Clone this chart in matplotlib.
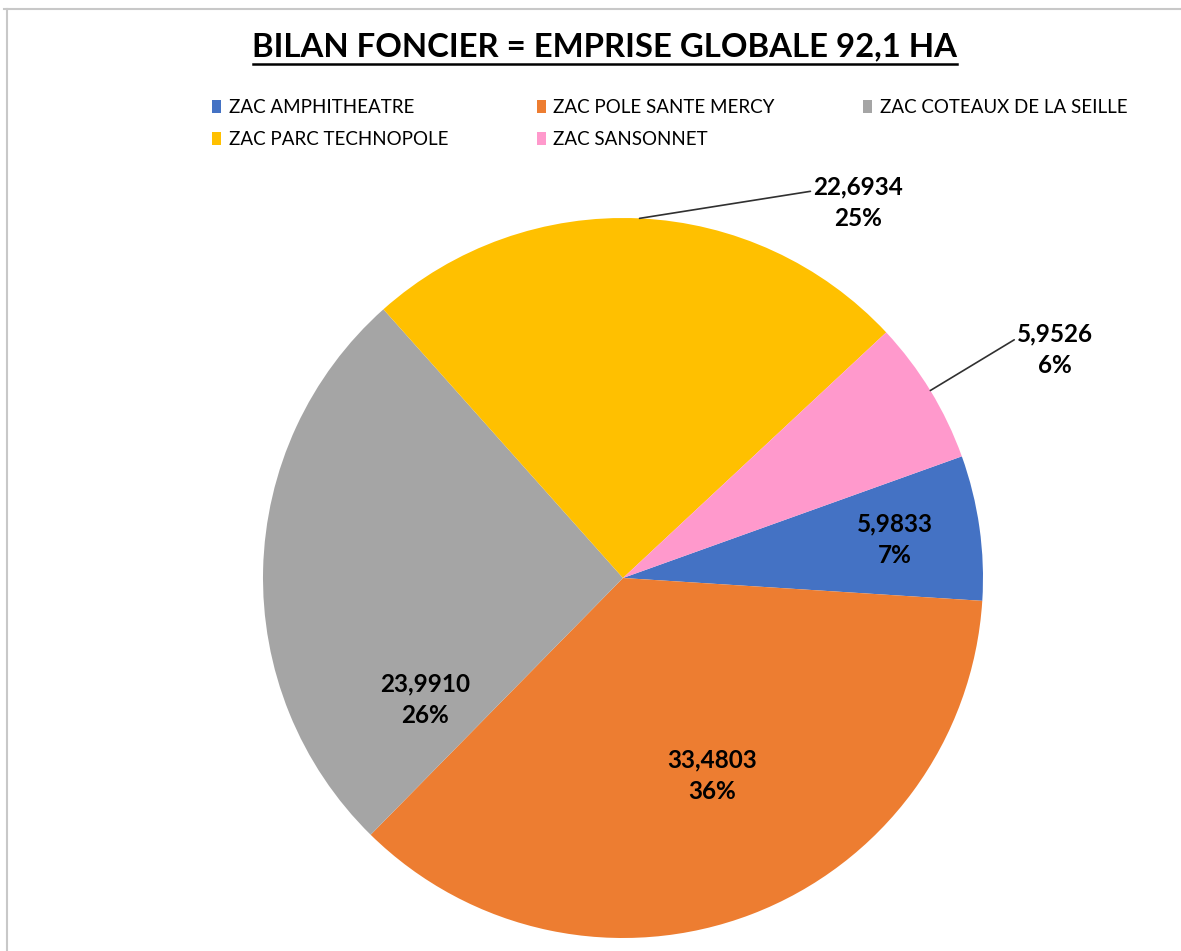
import matplotlib.pyplot as plt
from matplotlib.patches import Patch
from matplotlib.lines import Line2D
import numpy as np

plt.rcParams["font.family"] = ["Lato", "DejaVu Sans"]

# data
zones = ["ZAC AMPHITHEATRE", "ZAC POLE SANTE MERCY", "ZAC COTEAUX DE LA SEILLE",
         "ZAC PARC TECHNOPOLE", "ZAC SANSONNET"]
surfaces = [5.9833, 33.4803, 23.9910, 22.6934, 5.9526]
pct_labels = ["7%", "36%", "26%", "25%", "6%"]
colors = ["#4472C4", "#ED7D31", "#A5A5A5", "#FFC000", "#FF99CC"]

# label positions (data units, pie radius = 1) and which ones get a leader line
label_pos = [(0.756, 0.106), (0.247, -0.55), (-0.55, -0.339), (0.653, 1.042), (1.2, 0.633)]
leader = [False, False, False, True, True]

fig = plt.figure(figsize=(11.81, 9.51), dpi=100)

# chart frame (top and left border)
fig.add_artist(Line2D([0.003, 1.0], [1 - 9 / 951, 1 - 9 / 951], color="#C8C8C8", lw=1.5))
fig.add_artist(Line2D([7 / 1181, 7 / 1181], [0, 1 - 9 / 951], color="#C8C8C8", lw=1.5))

cx, cy, r = 623, 578, 360
ax = fig.add_axes([(cx - r) / 1181, (951 - cy - r) / 951, 2 * r / 1181, 2 * r / 951])
wedges, _ = ax.pie(surfaces, colors=colors, startangle=19.75, counterclock=False,
                   radius=1, wedgeprops=dict(linewidth=0))
ax.set_xlim(-1, 1)
ax.set_ylim(-1, 1)
ax.axis("off")

for w, v, p, pos, ld in zip(wedges, surfaces, pct_labels, label_pos, leader):
    txt = f"{v:.4f}".replace(".", ",") + "\n" + p
    if ld:
        mid = np.deg2rad((w.theta1 + w.theta2) / 2)
        x0, y0 = np.cos(mid), np.sin(mid)
        ax.annotate(txt, xy=(x0, y0), xytext=pos, ha="center", va="center",
                    fontsize=17.5, fontweight="bold", linespacing=1.45,
                    arrowprops=dict(arrowstyle="-", color="#303030", lw=1.2,
                                    shrinkA=0, shrinkB=0, relpos=(0, 0.72)),
                    annotation_clip=False)
    else:
        ax.text(pos[0], pos[1], txt, ha="center", va="center", fontsize=17.5,
                fontweight="bold", linespacing=1.45)

fig.text(605 / 1181, 1 - 47 / 951, "BILAN FONCIER = EMPRISE GLOBALE 92,1 HA",
         ha="center", va="center", fontsize=23.7, fontweight="bold")
fig.add_artist(Line2D([253 / 1181, 957 / 1181], [1 - 64 / 951, 1 - 64 / 951], color="black", lw=1.8))

order = [0, 3, 1, 4, 2]
handles = [Patch(facecolor=colors[i], edgecolor="none") for i in order]
fig.legend(handles, [zones[i] for i in order], ncol=3, loc="upper left",
           bbox_to_anchor=(212 / 1181, 1 - 99 / 951), frameon=False, fontsize=13.5,
           handlelength=0.5, handleheight=0.75, handletextpad=0.4,
           columnspacing=4.7, labelspacing=0.8, borderpad=0, borderaxespad=0)

fig.savefig("out.png", dpi=100)
